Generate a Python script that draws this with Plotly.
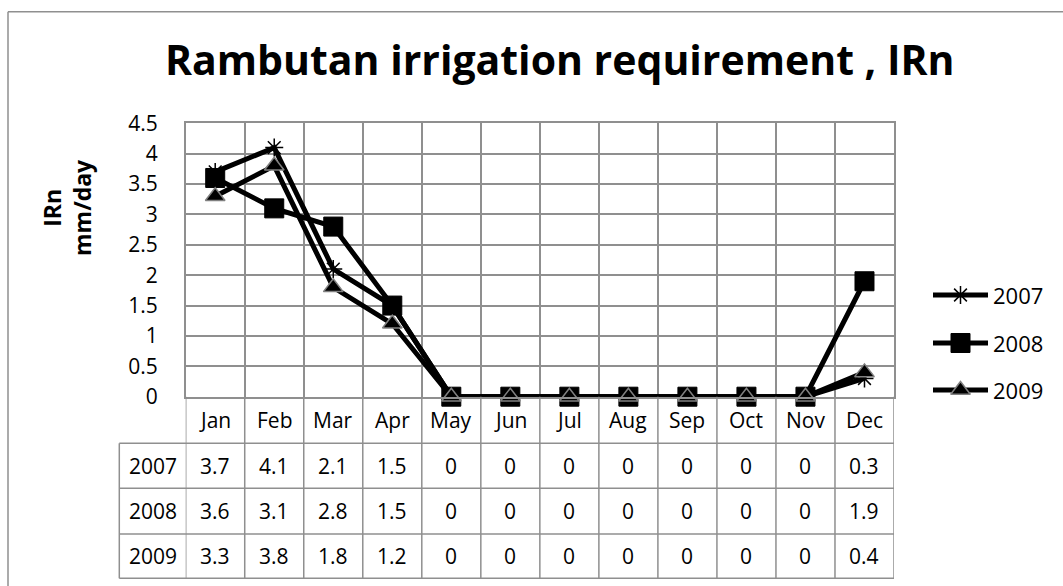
import plotly.graph_objects as go

months = ["Jan", "Feb", "Mar", "Apr", "May", "Jun", "Jul", "Aug", "Sep", "Oct", "Nov", "Dec"]
years = ["2007", "2008", "2009"]
irn_2007 = [3.7, 4.1, 2.1, 1.5, 0, 0, 0, 0, 0, 0, 0, 0.3]
irn_2008 = [3.6, 3.1, 2.8, 1.5, 0, 0, 0, 0, 0, 0, 0, 1.9]
irn_2009 = [3.3, 3.8, 1.8, 1.2, 0, 0, 0, 0, 0, 0, 0, 0.4]

W, H = 1063, 586
FONT = "Open Sans"
GRID = "#8f8f8f"


def px(x):
    return x / W


def py(y):
    return (H - y) / H


# pixel layout of the excel-like chart
plot_l, plot_r, plot_t, plot_b = 185.7, 894, 123.3, 396.7
row_lines = [443.3, 488.3, 534, 578.3]
tbl_left = 119.3
leg_x0, leg_x1, leg_rows = 933, 988, [295, 343, 390]

xs = list(range(len(months)))
series = [irn_2007, irn_2008, irn_2009]
markers = [
    dict(symbol="asterisk-open", size=15, color="black", line=dict(color="black", width=1.5)),
    dict(symbol="square", size=19, color="black", line=dict(color="black", width=1)),
    dict(symbol="triangle-up", size=17, color="black", line=dict(color="#808080", width=1.5)),
]

fig = go.Figure()
for name, vals, mk in zip(years, series, markers):
    fig.add_trace(go.Scatter(
        x=xs, y=vals, name=name, mode="lines+markers",
        line=dict(color="black", width=5), marker=mk,
        cliponaxis=False, showlegend=False,
    ))

# legend drawn by hand (longer line samples like excel), on a pixel overlay axis
for name, mk, yrow in zip(years, markers, leg_rows):
    fig.add_trace(go.Scatter(
        x=[leg_x0, leg_x1], y=[yrow, yrow], mode="lines", xaxis="x2", yaxis="y2",
        line=dict(color="black", width=5), showlegend=False, hoverinfo="skip", cliponaxis=False,
    ))
    fig.add_trace(go.Scatter(
        x=[(leg_x0 + leg_x1) / 2], y=[yrow], mode="markers", xaxis="x2", yaxis="y2",
        marker=mk, showlegend=False, hoverinfo="skip", cliponaxis=False,
    ))

shapes = []
# outer chart border (top and left visible)
shapes.append(dict(type="line", xref="paper", yref="paper", x0=px(8), x1=1.0, y0=py(11.7), y1=py(11.7),
                   line=dict(color=GRID, width=1.5)))
shapes.append(dict(type="line", xref="paper", yref="paper", x0=px(8), x1=px(8), y0=py(11.7), y1=0,
                   line=dict(color=GRID, width=1.5)))
# data table grid
for i in range(len(months) + 1):
    shapes.append(dict(type="line", xref="x", yref="paper", x0=i - 0.5, x1=i - 0.5,
                       y0=py(plot_b), y1=py(row_lines[-1]), line=dict(color=GRID, width=1.5)))
for y in row_lines:
    shapes.append(dict(type="line", xref="paper", yref="paper", x0=px(tbl_left), x1=px(plot_r),
                       y0=py(y), y1=py(y), line=dict(color=GRID, width=1.5)))
shapes.append(dict(type="line", xref="paper", yref="paper", x0=px(tbl_left), x1=px(tbl_left),
                   y0=py(row_lines[0]), y1=py(row_lines[-1]), line=dict(color=GRID, width=1.5)))

ann = []
cell_font = dict(family=FONT, size=21, color="black")
month_y = (plot_b + row_lines[0]) / 2
for i, m in enumerate(months):
    ann.append(dict(x=i, y=py(month_y), xref="x", yref="paper", text=m, showarrow=False,
                    xanchor="center", yanchor="middle", font=cell_font))
for r, (name, vals) in enumerate(zip(years, series)):
    yc = (row_lines[r] + row_lines[r + 1]) / 2
    ann.append(dict(x=px((tbl_left + plot_l) / 2), y=py(yc), xref="paper", yref="paper",
                    text=name, showarrow=False, xanchor="center", yanchor="middle", font=cell_font))
    for i, v in enumerate(vals):
        ann.append(dict(x=i, y=py(yc), xref="x", yref="paper", text=f"{v:g}", showarrow=False,
                        xanchor="center", yanchor="middle", font=cell_font))

# legend labels
for name, yrow in zip(years, leg_rows):
    ann.append(dict(x=px(leg_x1 + 3), y=py(yrow), xref="paper", yref="paper", text=name,
                    showarrow=False, xanchor="left", yanchor="middle",
                    font=dict(family=FONT, size=22, color="black")))

# title and axis title
ann.append(dict(x=px(560), y=py(59), xref="paper", yref="paper", showarrow=False,
                xanchor="center", yanchor="middle",
                text="<b>Rambutan irrigation requirement , IRn</b>",
                font=dict(family=FONT, size=41, color="black")))
ann.append(dict(x=px(67), y=py(208), xref="paper", yref="paper", showarrow=False, textangle=-90,
                xanchor="center", yanchor="middle",
                text="<b>IRn<br>mm/day</b>", font=dict(family=FONT, size=23, color="black")))

fig.update_layout(
    width=W, height=H, autosize=False,
    margin=dict(l=0, r=0, t=0, b=0, pad=0, autoexpand=False),
    paper_bgcolor="white", plot_bgcolor="rgba(0,0,0,0)",
    shapes=shapes, annotations=ann, showlegend=False,
    xaxis=dict(
        domain=[px(plot_l), px(plot_r)], range=[-0.5, len(months) - 0.5],
        tickvals=[i - 0.5 for i in range(len(months) + 1)], showticklabels=False,
        showgrid=True, gridcolor=GRID, gridwidth=1.5, zeroline=False, automargin=False,
        showline=True, linecolor=GRID, linewidth=1.5, mirror=True, ticks="",
    ),
    yaxis=dict(
        domain=[py(plot_b), py(plot_t)], range=[0, 4.5], dtick=0.5,
        showgrid=True, gridcolor=GRID, gridwidth=1.5, zeroline=False, automargin=False,
        showline=True, linecolor=GRID, linewidth=1.5, mirror=True, ticks="",
        tickfont=dict(family=FONT, size=21, color="black"), ticklabelstandoff=22,
    ),
    xaxis2=dict(domain=[0, 1], range=[0, W], anchor="y2", visible=False, fixedrange=True),
    yaxis2=dict(domain=[0, 1], range=[H, 0], anchor="x2", visible=False, fixedrange=True),
)

fig.write_html("out.html", config={"displayModeBar": False},
               post_script="document.body.style.margin='0';")
